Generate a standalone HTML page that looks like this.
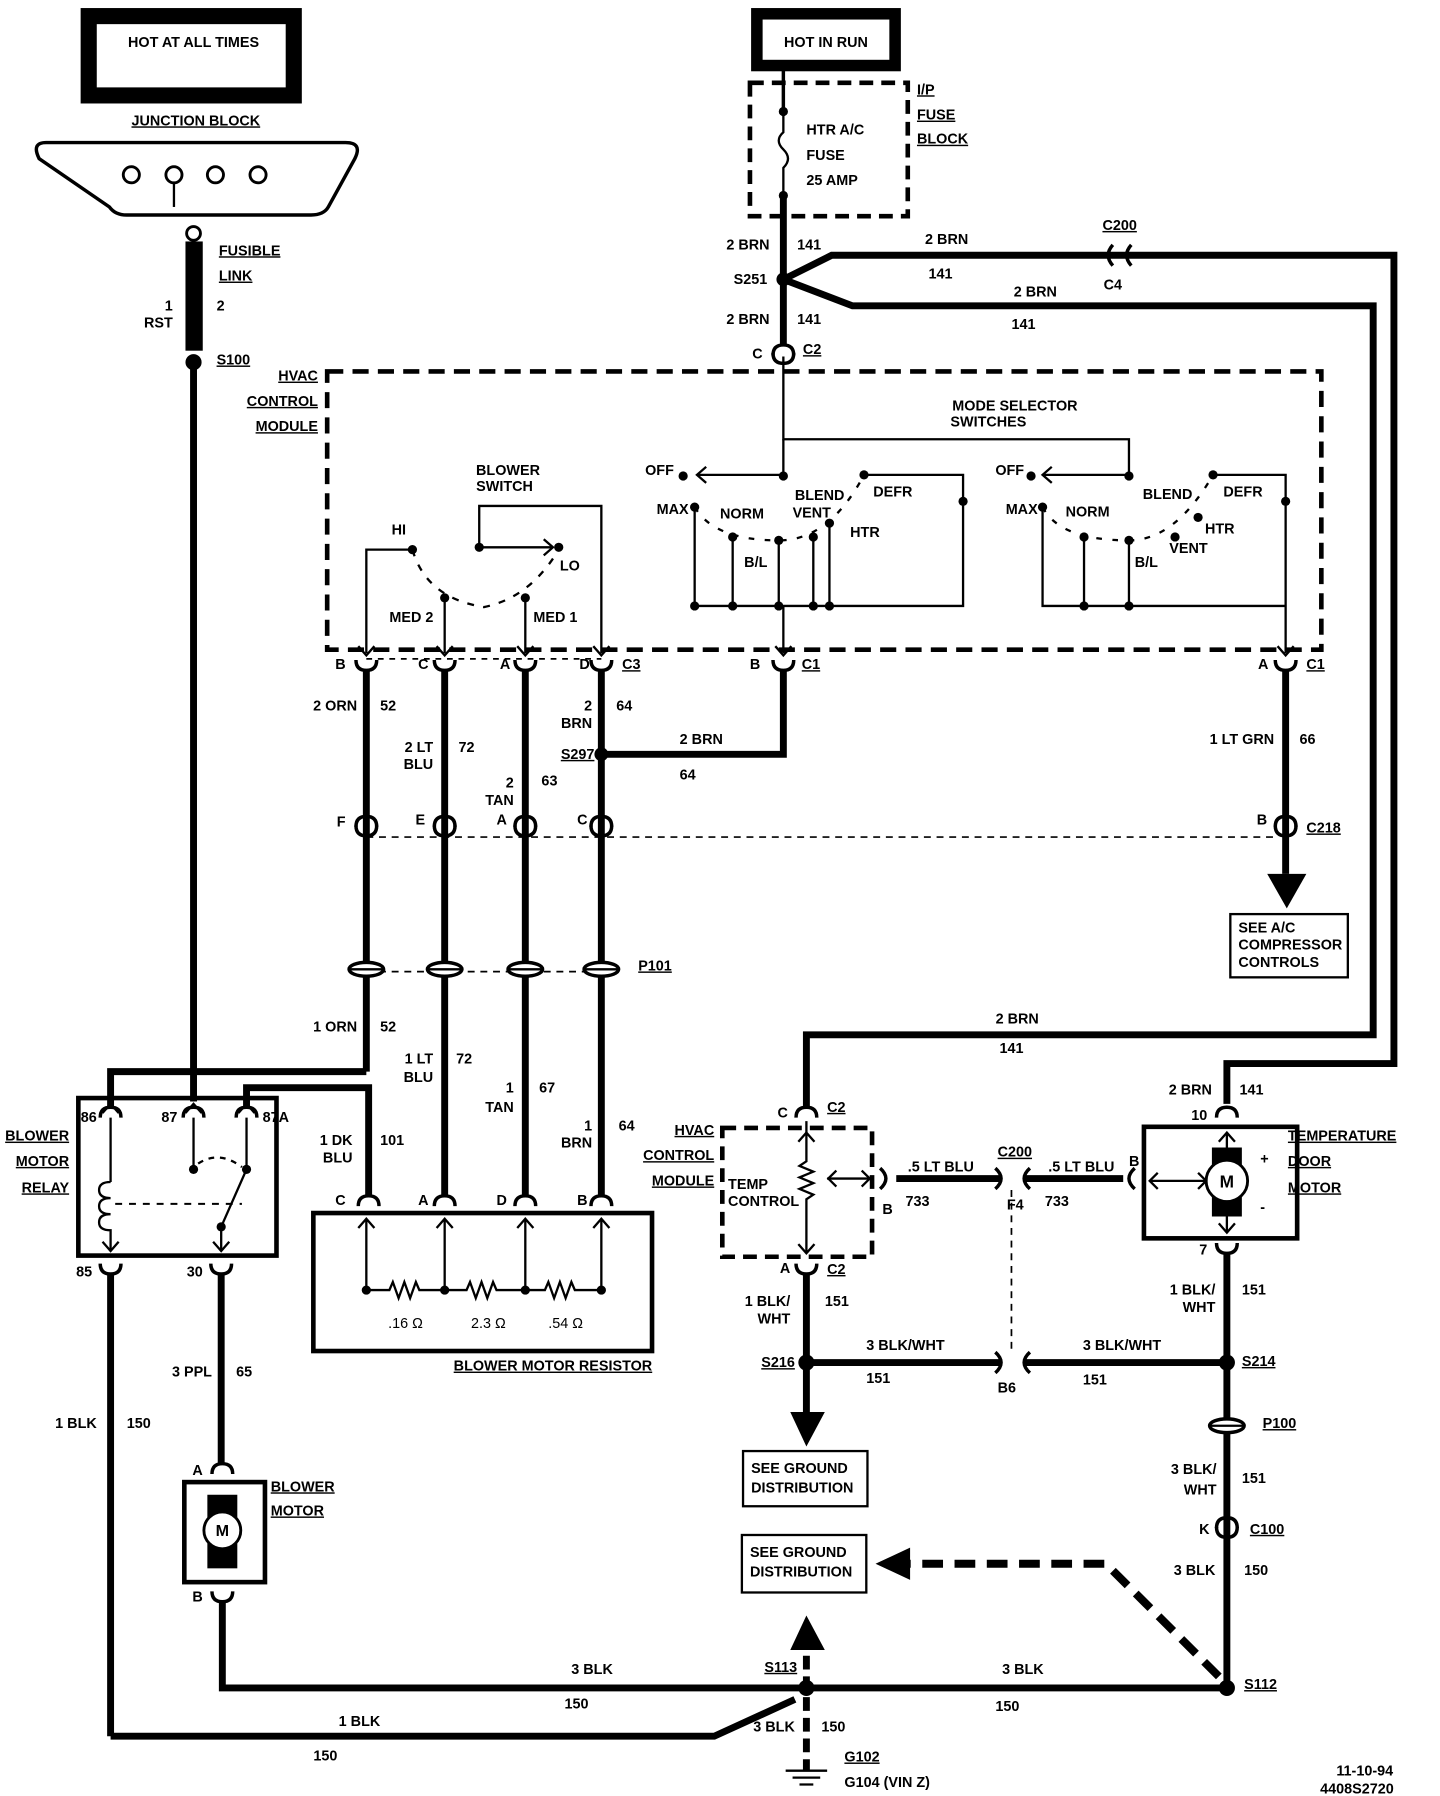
<!DOCTYPE html>
<html><head><meta charset="utf-8"><style>
html,body{margin:0;padding:0;background:#fff}
svg{display:block}
text{font-family:"Liberation Sans",sans-serif;font-weight:bold;font-size:12.5px;fill:#000}
.u{text-decoration:underline}
</style></head><body>
<svg width="1440" height="1796" viewBox="0 0 1250 1562" preserveAspectRatio="none" xmlns="http://www.w3.org/2000/svg">
<defs>
<path id="ct" d="M-9 4 Q-9 -5 0 -5 Q9 -5 9 4" fill="none" stroke="#000" stroke-width="3"/>
<path id="cb" d="M-9 -4 Q-9 5 0 5 Q9 5 9 -4" fill="none" stroke="#000" stroke-width="3"/>
<path id="av" d="M-7 -8 L0 0 L7 -8" fill="none" stroke="#000" stroke-width="2"/>
<path id="au" d="M-7 8 L0 0 L7 8" fill="none" stroke="#000" stroke-width="2"/>
<g id="pp"><ellipse cx="0" cy="0" rx="15" ry="6" fill="#fff" stroke="#000" stroke-width="3"/><line x1="-15" y1="0" x2="15" y2="0" stroke="#000" stroke-width="2"/></g>
</defs>
<g fill="none" stroke="#000">
<rect x="77" y="14" width="178" height="69" stroke-width="14"/>
<rect x="657" y="12" width="120" height="45" stroke-width="10"/>
<path d="M40 124 L300 124 Q315 124 308 138 L285 180 Q281 187 270 187 L110 187 Q100 187 95 180 L34 138 Q27 124 40 124 Z" stroke-width="3"/>
<circle cx="114" cy="152" r="7" stroke-width="2.5"/><circle cx="151" cy="152" r="7" stroke-width="2.5"/><circle cx="187" cy="152" r="7" stroke-width="2.5"/><circle cx="224" cy="152" r="7" stroke-width="2.5"/>
<line x1="151" y1="159" x2="151" y2="180" stroke-width="2"/>
<circle cx="168" cy="203" r="6" stroke-width="2.5"/>
<line x1="168" y1="310" x2="168" y2="958" stroke-width="6"/>
<rect x="284" y="323" width="863" height="242" stroke-width="4" stroke-dasharray="14,8"/>
<rect x="651" y="72" width="137" height="116" stroke-width="4" stroke-dasharray="12,7"/>
<rect x="627" y="981" width="130" height="112" stroke-width="4" stroke-dasharray="12,7"/>
<line x1="680" y1="60" x2="680" y2="95" stroke-width="3"/>
<path d="M680 97 L680 115 Q672 122 680 130 Q688 138 680 146 L680 170" stroke-width="2"/>
<line x1="680" y1="172" x2="680" y2="300" stroke-width="6"/>
<path d="M680 243 L722 222 L1210 222 L1210 925 L1065 925 L1065 960" stroke-width="6"/>
<path d="M680 243 L740 266 L1192 266 L1192 900 L700 900 L700 962" stroke-width="6"/>
<path d="M680 310 L680 382 L980 382 L980 413" stroke-width="2"/>
<path d="M680 382 L680 413 L605 413" stroke-width="2"/>
<path d="M905 413 L980 413" stroke-width="2"/>
<path d="M603 441 L603 527 L836 527 L836 436 M750 413 L836 413 L836 436 M636 527 L636 467 M676 527 L676 470 M706 527 L706 467 M720 527 L720 455" stroke-width="2"/>
<path d="M603 441 Q620 470 676 470 Q720 470 750 413" stroke-width="2" stroke-dasharray="5,9"/>
<line x1="680" y1="527" x2="680" y2="568" stroke-width="2"/>
<path d="M905 441 L905 527 L1116 527 L1116 568 M1053 413 L1116 413 L1116 527 M941 527 L941 467 M980 527 L980 470" stroke-width="2"/>
<path d="M905 441 Q920 470 980 470 Q1020 470 1053 413" stroke-width="2" stroke-dasharray="5,9"/>
<path d="M416 476 L416 440 L522 440 L522 568 M358 478 L318 478 L318 568 M386 520 L386 568 M456 520 L456 568 M416 476 L480 476" stroke-width="2"/>
<path d="M358 478 Q370 520 420 528 Q460 520 485 478" stroke-width="2" stroke-dasharray="6,8"/>
<line x1="318" y1="573" x2="522" y2="573" stroke-width="1.5" stroke-dasharray="5,5"/>
<line x1="318" y1="728" x2="1110" y2="728" stroke-width="1.5" stroke-dasharray="6,5"/>
<line x1="318" y1="845" x2="522" y2="845" stroke-width="1.5" stroke-dasharray="6,5"/>
<line x1="318" y1="582" x2="318" y2="932" stroke-width="6"/>
<line x1="386" y1="582" x2="386" y2="1040" stroke-width="6"/>
<line x1="456" y1="582" x2="456" y2="1040" stroke-width="6"/>
<line x1="522" y1="582" x2="522" y2="1040" stroke-width="6"/>
<path d="M522 656 L680 656 L680 582" stroke-width="6"/>
<line x1="1116" y1="582" x2="1116" y2="760" stroke-width="6"/>
<path d="M318 932 L96 932 L96 962" stroke-width="6"/>
<path d="M214 962 L214 946 L320 946 L320 1040" stroke-width="6"/>
<rect x="68" y="955" width="172" height="137" stroke-width="4"/>
<path d="M96 972 L96 1028 M96 1028 q-10 0 -10 7 q0 7 10 7 q-10 0 -10 7 q0 7 10 7 q-10 0 -10 7 q0 7 10 7 L96 1088" stroke-width="2"/>
<line x1="100" y1="1047" x2="210" y2="1047" stroke-width="1.8" stroke-dasharray="6,6"/>
<path d="M168 972 L168 1017 M214 972 L214 1017 L192 1067 L192 1088" stroke-width="2"/>
<path d="M172 1012 Q190 1000 210 1015" stroke-width="2" stroke-dasharray="5,5"/>
<line x1="96" y1="1108" x2="96" y2="1510" stroke-width="6"/>
<line x1="192" y1="1108" x2="192" y2="1272" stroke-width="6"/>
<rect x="272" y="1055" width="294" height="120" stroke-width="4"/>
<path d="M318 1060 L318 1122 M386 1060 L386 1122 M456 1060 L456 1122 M522 1060 L522 1122" stroke-width="2"/>
<path d="M318 1122 L338 1122 l3 -7 l5 14 l5 -14 l5 14 l5 -14 l3 7 L386 1122 L405 1122 l3 -7 l5 14 l5 -14 l5 14 l5 -14 l3 7 L456 1122 L473 1122 l3 -7 l5 14 l5 -14 l5 14 l5 -14 l3 7 L522 1122" stroke-width="2"/>
<rect x="160" y="1289" width="70" height="87" stroke-width="4"/>
<rect x="180" y="1300" width="26" height="64" fill="#000" stroke="none"/>
<circle cx="193" cy="1331" r="16" fill="#fff" stroke-width="2.5"/>
<path d="M193 1392 L193 1468 L700 1468 M96 1510 L620 1510 L690 1478" stroke-width="6"/>
<line x1="700" y1="1440" x2="700" y2="1540" stroke-width="6" stroke-dasharray="12,6"/>
<path d="M682 1540 L718 1540 M688 1546 L712 1546 M694 1552 L706 1552" stroke-width="2"/>
<line x1="700" y1="1468" x2="1065" y2="1468" stroke-width="6"/>
<path d="M1058 1458 L960 1360 L790 1360" stroke-width="7" stroke-dasharray="18,10"/>
<line x1="1065" y1="1090" x2="1065" y2="1468" stroke-width="6"/>
<path d="M700 1108 L700 1250" stroke-width="6"/>
<line x1="706" y1="1185" x2="868" y2="1185" stroke-width="6"/>
<line x1="890" y1="1185" x2="1060" y2="1185" stroke-width="6"/>
<line x1="878" y1="1035" x2="878" y2="1175" stroke-width="1.5" stroke-dasharray="6,5"/>
<line x1="778" y1="1025" x2="868" y2="1025" stroke-width="6"/>
<line x1="888" y1="1025" x2="975" y2="1025" stroke-width="6"/>
<path d="M700 975 L700 1010 l-6 4 l12 5 l-12 5 l12 5 l-12 5 l12 5 l-6 4 L700 1090 M718 1025 L755 1025" stroke-width="2"/>
<rect x="993" y="980" width="133" height="97" stroke-width="4"/>
<rect x="1052" y="998" width="26" height="60" fill="#000" stroke="none"/>
<circle cx="1065" cy="1027" r="18" fill="#fff" stroke-width="2.5"/>
<path d="M1065 985 L1065 998 M1065 1058 L1065 1072 M998 1027 L1047 1027" stroke-width="2"/>
<path d="M1005 1020 L998 1027 L1005 1034 M1040 1020 L1047 1027 L1040 1034 M726 1018 L719 1025 L726 1032 M748 1018 L755 1025 L748 1032" stroke-width="2"/>
<rect x="1068" y="795" width="102" height="55" stroke-width="2"/>
<rect x="645" y="1262" width="108" height="48" stroke-width="2"/>
<rect x="644" y="1335" width="108" height="50" stroke-width="2"/>
<path d="M966 213 Q958 222 966 231 M982 213 Q974 222 982 231" stroke-width="3"/>
<path d="M864 1016 Q874 1025 864 1034 M894 1016 Q884 1025 894 1034" stroke-width="3"/>
<path d="M764 1016 Q774 1025 764 1034" stroke-width="3"/>
<path d="M985 1016 Q975 1025 985 1034" stroke-width="3"/>
<path d="M864 1176 Q874 1185 864 1194 M894 1176 Q884 1185 894 1194" stroke-width="3"/>
</g>
<g fill="#000">
<rect x="161" y="210" width="15" height="95"/>
<circle cx="168" cy="315" r="7"/>
<circle cx="680" cy="243" r="6"/>
<circle cx="680" cy="97" r="4"/><circle cx="680" cy="170" r="4"/>
<circle cx="522" cy="656" r="6"/>
<circle cx="700" cy="1185" r="7"/><circle cx="1065" cy="1185" r="7"/>
<circle cx="700" cy="1468" r="7"/><circle cx="1065" cy="1468" r="7"/>
<polygon points="1100,760 1134,760 1117,790"/>
<polygon points="686,1228 716,1228 700,1258"/>
<polygon points="686,1435 716,1435 700,1405"/>
<polygon points="790,1346 790,1374 760,1360"/>
<circle cx="593" cy="414" r="4"/><circle cx="680" cy="414" r="4"/><circle cx="603" cy="441" r="4"/><circle cx="636" cy="467" r="4"/><circle cx="676" cy="470" r="4"/><circle cx="706" cy="467" r="4"/><circle cx="720" cy="455" r="4"/><circle cx="750" cy="413" r="4"/><circle cx="836" cy="436" r="4"/>
<circle cx="603" cy="527" r="4"/><circle cx="636" cy="527" r="4"/><circle cx="676" cy="527" r="4"/><circle cx="706" cy="527" r="4"/><circle cx="720" cy="527" r="4"/>
<circle cx="895" cy="414" r="4"/><circle cx="980" cy="414" r="4"/><circle cx="905" cy="441" r="4"/><circle cx="941" cy="467" r="4"/><circle cx="980" cy="470" r="4"/><circle cx="1020" cy="467" r="4"/><circle cx="1040" cy="450" r="4"/><circle cx="1053" cy="413" r="4"/><circle cx="1116" cy="436" r="4"/>
<circle cx="941" cy="527" r="4"/><circle cx="980" cy="527" r="4"/>
<circle cx="358" cy="478" r="4"/><circle cx="485" cy="476" r="4"/><circle cx="416" cy="476" r="4"/><circle cx="386" cy="520" r="4"/><circle cx="456" cy="520" r="4"/>
<circle cx="168" cy="1017" r="4"/><circle cx="214" cy="1017" r="4"/><circle cx="192" cy="1067" r="4"/>
<circle cx="318" cy="1122" r="4"/><circle cx="386" cy="1122" r="4"/><circle cx="456" cy="1122" r="4"/><circle cx="522" cy="1122" r="4"/>
</g>
<g>
<use href="#av" x="318" y="570"/><use href="#cb" x="318" y="578"/>
<use href="#av" x="386" y="570"/><use href="#cb" x="386" y="578"/>
<use href="#av" x="456" y="570"/><use href="#cb" x="456" y="578"/>
<use href="#av" x="522" y="570"/><use href="#cb" x="522" y="578"/>
<use href="#av" x="680" y="570"/><use href="#cb" x="680" y="578"/>
<use href="#av" x="1116" y="570"/><use href="#cb" x="1116" y="578"/>
<use href="#ct" x="680" y="305"/><use href="#cb" x="680" y="311"/>
<use href="#ct" x="318" y="715"/><use href="#cb" x="318" y="722"/>
<use href="#ct" x="386" y="715"/><use href="#cb" x="386" y="722"/>
<use href="#ct" x="456" y="715"/><use href="#cb" x="456" y="722"/>
<use href="#ct" x="522" y="715"/><use href="#cb" x="522" y="722"/>
<use href="#ct" x="1116" y="715"/><use href="#cb" x="1116" y="722"/>
<use href="#pp" x="318" y="843"/><use href="#pp" x="386" y="843"/><use href="#pp" x="456" y="843"/><use href="#pp" x="522" y="843"/>
<use href="#pp" x="1065" y="1240"/>
<use href="#ct" x="96" y="968"/><use href="#ct" x="168" y="968"/><use href="#ct" x="214" y="968"/>
<use href="#au" x="96" y="960"/><use href="#au" x="168" y="960"/><use href="#au" x="214" y="960"/>
<use href="#av" x="96" y="1088"/><use href="#av" x="192" y="1088"/>
<use href="#cb" x="96" y="1103"/><use href="#cb" x="192" y="1103"/>
<use href="#ct" x="320" y="1045"/><use href="#ct" x="386" y="1045"/><use href="#ct" x="456" y="1045"/><use href="#ct" x="522" y="1045"/>
<use href="#au" x="318" y="1060"/><use href="#au" x="386" y="1060"/><use href="#au" x="456" y="1060"/><use href="#au" x="522" y="1060"/>
<use href="#ct" x="193" y="1278"/><use href="#cb" x="193" y="1388"/>
<use href="#ct" x="700" y="968"/><use href="#au" x="700" y="985"/>
<use href="#av" x="700" y="1090"/><use href="#cb" x="700" y="1103"/>
<use href="#ct" x="1065" y="968"/><use href="#au" x="1065" y="985"/>
<use href="#av" x="1065" y="1072"/><use href="#cb" x="1065" y="1085"/>
<use href="#ct" x="1065" y="1325"/><use href="#cb" x="1065" y="1332"/>
<use href="#av" x="605" y="413" transform="rotate(90 605 413)"/>
<use href="#av" x="905" y="413" transform="rotate(90 905 413)"/>
<use href="#av" x="480" y="476" transform="rotate(-90 480 476)"/>
</g>
<text x="168" y="41" text-anchor="middle">HOT AT ALL TIMES</text>
<text x="717" y="41" text-anchor="middle">HOT IN RUN</text>
<text x="170" y="109" text-anchor="middle" class="u">JUNCTION BLOCK</text>
<text x="190" y="222" class="u">FUSIBLE</text>
<text x="190" y="244" class="u">LINK</text>
<text x="188" y="270">2</text>
<text x="150" y="270" text-anchor="end">1</text>
<text x="150" y="285" text-anchor="end">RST</text>
<text x="188" y="317" class="u">S100</text>
<text x="276" y="331" text-anchor="end" class="u">HVAC</text>
<text x="276" y="353" text-anchor="end" class="u">CONTROL</text>
<text x="276" y="375" text-anchor="end" class="u">MODULE</text>
<text x="700" y="117">HTR A/C</text>
<text x="700" y="139">FUSE</text>
<text x="700" y="161">25 AMP</text>
<text x="796" y="82" class="u">I/P</text>
<text x="796" y="104" class="u">FUSE</text>
<text x="796" y="125" class="u">BLOCK</text>
<text x="668" y="217" text-anchor="end">2 BRN</text><text x="692" y="217">141</text>
<text x="666" y="247" text-anchor="end">S251</text>
<text x="668" y="282" text-anchor="end">2 BRN</text><text x="692" y="282">141</text>
<text x="662" y="312" text-anchor="end">C</text><text x="697" y="308" class="u">C2</text>
<text x="803" y="212">2 BRN</text><text x="806" y="242">141</text>
<text x="957" y="200" class="u">C200</text><text x="958" y="252">C4</text>
<text x="880" y="258">2 BRN</text><text x="878" y="286">141</text>
<text x="881" y="357" text-anchor="middle">MODE SELECTOR</text>
<text x="858" y="371" text-anchor="middle">SWITCHES</text>
<text x="441" y="413" text-anchor="middle">BLOWER</text><text x="438" y="427" text-anchor="middle">SWITCH</text>
<text x="340" y="465">HI</text><text x="486" y="496">LO</text>
<text x="338" y="541">MED 2</text><text x="463" y="541">MED 1</text>
<text x="560" y="413">OFF</text><text x="570" y="447">MAX</text><text x="625" y="451">NORM</text>
<text x="690" y="435">BLEND</text><text x="688" y="450">VENT</text><text x="758" y="432">DEFR</text><text x="738" y="467">HTR</text><text x="646" y="493">B/L</text>
<text x="864" y="413">OFF</text><text x="873" y="447">MAX</text><text x="925" y="449">NORM</text>
<text x="992" y="434">BLEND</text><text x="1062" y="432">DEFR</text><text x="1046" y="464">HTR</text><text x="1015" y="481">VENT</text><text x="985" y="493">B/L</text>
<text x="300" y="582" text-anchor="end">B</text><text x="372" y="582" text-anchor="end">C</text><text x="443" y="582" text-anchor="end">A</text><text x="512" y="582" text-anchor="end">D</text><text x="540" y="582" class="u">C3</text>
<text x="660" y="582" text-anchor="end">B</text><text x="696" y="582" class="u">C1</text>
<text x="1101" y="582" text-anchor="end">A</text><text x="1134" y="582" class="u">C1</text>
<text x="310" y="618" text-anchor="end">2 ORN</text><text x="330" y="618">52</text>
<text x="376" y="654" text-anchor="end">2 LT</text><text x="376" y="669" text-anchor="end">BLU</text><text x="398" y="654">72</text>
<text x="446" y="685" text-anchor="end">2</text><text x="446" y="700" text-anchor="end">TAN</text><text x="470" y="683">63</text>
<text x="514" y="618" text-anchor="end">2</text><text x="514" y="633" text-anchor="end">BRN</text><text x="535" y="618">64</text>
<text x="516" y="660" text-anchor="end" class="u">S297</text>
<text x="590" y="647">2 BRN</text><text x="590" y="678">64</text>
<text x="1106" y="647" text-anchor="end">1 LT GRN</text><text x="1128" y="647">66</text>
<text x="300" y="719" text-anchor="end">F</text><text x="369" y="717" text-anchor="end">E</text><text x="440" y="717" text-anchor="end">A</text><text x="510" y="717" text-anchor="end">C</text>
<text x="1100" y="717" text-anchor="end">B</text><text x="1134" y="724" class="u">C218</text>
<text x="1075" y="811">SEE A/C</text><text x="1075" y="826">COMPRESSOR</text><text x="1075" y="841">CONTROLS</text>
<text x="554" y="844" class="u">P101</text>
<text x="310" y="897" text-anchor="end">1 ORN</text><text x="330" y="897">52</text>
<text x="376" y="925" text-anchor="end">1 LT</text><text x="376" y="941" text-anchor="end">BLU</text><text x="396" y="925">72</text>
<text x="446" y="950" text-anchor="end">1</text><text x="446" y="967" text-anchor="end">TAN</text><text x="468" y="950">67</text>
<text x="514" y="983" text-anchor="end">1</text><text x="514" y="998" text-anchor="end">BRN</text><text x="537" y="983">64</text>
<text x="306" y="996" text-anchor="end">1 DK</text><text x="306" y="1011" text-anchor="end">BLU</text><text x="330" y="996">101</text>
<text x="60" y="992" text-anchor="end" class="u">BLOWER</text><text x="60" y="1014" text-anchor="end" class="u">MOTOR</text><text x="60" y="1037" text-anchor="end" class="u">RELAY</text>
<text x="84" y="976" text-anchor="end">86</text><text x="154" y="976" text-anchor="end">87</text><text x="228" y="976">87A</text>
<text x="80" y="1110" text-anchor="end">85</text><text x="176" y="1110" text-anchor="end">30</text>
<text x="300" y="1048" text-anchor="end">C</text><text x="372" y="1048" text-anchor="end">A</text><text x="440" y="1048" text-anchor="end">D</text><text x="510" y="1048" text-anchor="end">B</text>
<text x="352" y="1155" text-anchor="middle" style="font-weight:normal">.16 Ω</text><text x="424" y="1155" text-anchor="middle" style="font-weight:normal">2.3 Ω</text><text x="491" y="1155" text-anchor="middle" style="font-weight:normal">.54 Ω</text>
<text x="480" y="1192" text-anchor="middle" class="u">BLOWER MOTOR RESISTOR</text>
<text x="184" y="1197" text-anchor="end">3 PPL</text><text x="205" y="1197">65</text>
<text x="84" y="1242" text-anchor="end">1 BLK</text><text x="110" y="1242">150</text>
<text x="176" y="1283" text-anchor="end">A</text><text x="176" y="1393" text-anchor="end">B</text>
<text x="235" y="1297" class="u">BLOWER</text><text x="235" y="1318" class="u">MOTOR</text>
<text x="193" y="1336" text-anchor="middle" style="font-size:14px">M</text>
<text x="532" y="1456" text-anchor="end">3 BLK</text><text x="490" y="1486">150</text>
<text x="294" y="1501">1 BLK</text><text x="272" y="1531">150</text>
<text x="692" y="1454" text-anchor="end" class="u">S113</text>
<text x="690" y="1506" text-anchor="end">3 BLK</text><text x="713" y="1506">150</text>
<text x="733" y="1532" class="u">G102</text><text x="733" y="1554">G104 (VIN Z)</text>
<text x="906" y="1456" text-anchor="end">3 BLK</text><text x="864" y="1488">150</text>
<text x="1080" y="1469" class="u">S112</text>
<text x="1160" y="1544">11-10-94</text><text x="1146" y="1560">4408S2720</text>
<text x="652" y="1281">SEE GROUND</text><text x="652" y="1298">DISTRIBUTION</text>
<text x="651" y="1354">SEE GROUND</text><text x="651" y="1371">DISTRIBUTION</text>
<text x="620" y="987" text-anchor="end" class="u">HVAC</text><text x="620" y="1009" text-anchor="end" class="u">CONTROL</text><text x="620" y="1031" text-anchor="end" class="u">MODULE</text>
<text x="632" y="1034">TEMP</text><text x="632" y="1049">CONTROL</text>
<text x="684" y="972" text-anchor="end">C</text><text x="718" y="967" class="u">C2</text>
<text x="686" y="1107" text-anchor="end">A</text><text x="718" y="1108" class="u">C2</text>
<text x="883" y="890" text-anchor="middle">2 BRN</text><text x="878" y="916" text-anchor="middle">141</text>
<text x="1052" y="952" text-anchor="end">2 BRN</text><text x="1076" y="952">141</text>
<text x="1048" y="974" text-anchor="end">10</text><text x="1048" y="1091" text-anchor="end">7</text>
<text x="1118" y="992" class="u">TEMPERATURE</text><text x="1118" y="1014" class="u">DOOR</text><text x="1118" y="1037" class="u">MOTOR</text>
<text x="1065" y="1033" text-anchor="middle" style="font-size:15px">M</text>
<text x="1094" y="1012">+</text><text x="1094" y="1054">-</text>
<text x="788" y="1019">.5 LT BLU</text><text x="786" y="1049">733</text><text x="766" y="1056">B</text>
<text x="866" y="1006" class="u">C200</text><text x="874" y="1052">F4</text>
<text x="910" y="1019">.5 LT BLU</text><text x="907" y="1049">733</text><text x="980" y="1014">B</text>
<text x="686" y="1136" text-anchor="end">1 BLK/</text><text x="686" y="1151" text-anchor="end">WHT</text><text x="716" y="1136">151</text>
<text x="690" y="1189" text-anchor="end" class="u">S216</text>
<text x="752" y="1174">3 BLK/WHT</text><text x="752" y="1203">151</text>
<text x="940" y="1174">3 BLK/WHT</text><text x="940" y="1204">151</text>
<text x="866" y="1211">B6</text>
<text x="1055" y="1126" text-anchor="end">1 BLK/</text><text x="1055" y="1141" text-anchor="end">WHT</text><text x="1078" y="1126">151</text>
<text x="1078" y="1188" class="u">S214</text>
<text x="1096" y="1242" class="u">P100</text>
<text x="1056" y="1282" text-anchor="end">3 BLK/</text><text x="1056" y="1300" text-anchor="end">WHT</text><text x="1078" y="1290">151</text>
<text x="1050" y="1334" text-anchor="end">K</text><text x="1085" y="1334" class="u">C100</text>
<text x="1055" y="1370" text-anchor="end">3 BLK</text><text x="1080" y="1370">150</text>
</svg>
</body></html>
